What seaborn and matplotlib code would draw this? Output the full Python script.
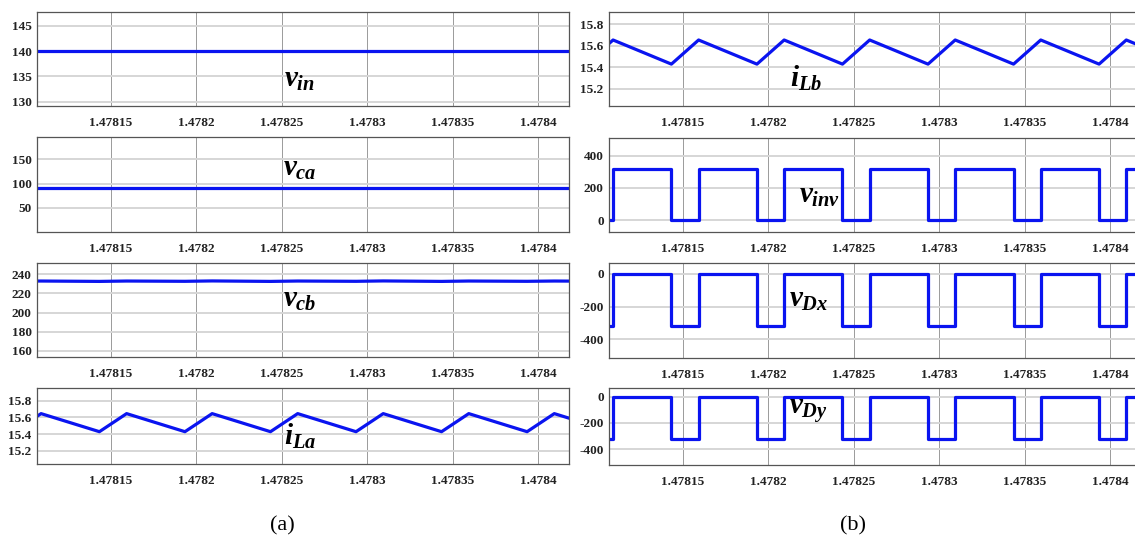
import matplotlib
matplotlib.use("Agg")
import matplotlib.pyplot as plt
import seaborn as sns
from matplotlib.ticker import FixedLocator, FixedFormatter

# ---- switching-instant vertices (s): troughs and peaks of the inductor ripple ----
t_vertices = [1.4780935, 1.4781094, 1.4781435, 1.4781594, 1.4781935, 1.4782094,
              1.4782435, 1.4782594, 1.4782935, 1.4783094, 1.4783435, 1.4783594,
              1.4783935, 1.4784094, 1.4784435]

# panel (a)
v_in = [140.0] * len(t_vertices)
v_ca = [91.0] * len(t_vertices)
v_cb = [232.8, 233.0, 232.6, 233.0, 232.7, 233.1, 232.6, 233.0,
        232.7, 233.1, 232.6, 233.0, 232.7, 233.0, 232.7]
i_La = [15.428, 15.645, 15.428, 15.645, 15.428, 15.645, 15.428, 15.645,
        15.428, 15.645, 15.428, 15.645, 15.428, 15.645, 15.428]

# panel (b)
i_Lb = [15.428, 15.652, 15.428, 15.652, 15.428, 15.652, 15.428, 15.652,
        15.428, 15.652, 15.428, 15.652, 15.428, 15.652, 15.428]
v_inv = [0, 321, 0, 321, 0, 321, 0, 321, 0, 321, 0, 321, 0, 321, 0]
v_Dx = [-319, 0, -319, 0, -319, 0, -319, 0, -319, 0, -319, 0, -319, 0, -319]
v_Dy = [-323, 0, -323, 0, -323, 0, -323, 0, -323, 0, -323, 0, -323, 0, -323]

# time axis
x_limits = (1.4781072, 1.478418)
x_ticks = [1.47815, 1.4782, 1.47825, 1.4783, 1.47835, 1.4784]
x_tick_labels = ["1.47815", "1.4782", "1.47825", "1.4783", "1.47835", "1.4784"]

sns.set_theme(style="white")
plt.rcParams["font.family"] = ["Liberation Serif", "DejaVu Serif"]
plt.rcParams["mathtext.fontset"] = "custom"
plt.rcParams["mathtext.it"] = "Liberation Serif:italic:bold"
plt.rcParams["mathtext.rm"] = "Liberation Serif:bold"
plt.rcParams["mathtext.bf"] = "Liberation Serif:italic:bold"

W, H = 1135, 538
fig = plt.figure(figsize=(W / 100, H / 100), dpi=100)


def px_axes(x0, top, width, bottom):
    return fig.add_axes([x0 / W, 1 - bottom / H, width / W, (bottom - top) / H])


panels = [
    # left column
    dict(box=(37.3, 11.7, 531.7, 106.3), y=v_in, ylim=(129.07, 147.8),
         yt=[130, 135, 140, 145], ytl=["130", "135", "140", "145"],
         label=r"$v_{in}$", lab=(284, 87), steps=False),
    dict(box=(37.3, 137.3, 531.7, 231.7), y=v_ca, ylim=(0.4, 195.5),
         yt=[50, 100, 150], ytl=["50", "100", "150"],
         label=r"$v_{ca}$", lab=(283, 176), steps=False),
    dict(box=(37.3, 263.3, 531.7, 357.3), y=v_cb, ylim=(153.4, 251.5),
         yt=[160, 180, 200, 220, 240], ytl=["160", "180", "200", "220", "240"],
         label=r"$v_{cb}$", lab=(283, 307), steps=False),
    dict(box=(37.3, 388.3, 531.7, 464.0), y=i_La, ylim=(15.04, 15.949),
         yt=[15.2, 15.4, 15.6, 15.8], ytl=["15.2", "15.4", "15.6", "15.8"],
         label=r"$i_{La}$", lab=(284, 445), steps=False),
    # right column
    dict(box=(609.3, 12.0, 531.7, 106.0), y=i_Lb, ylim=(15.039, 15.912),
         yt=[15.2, 15.4, 15.6, 15.8], ytl=["15.2", "15.4", "15.6", "15.8"],
         label=r"$i_{Lb}$", lab=(790, 87), steps=False),
    dict(box=(609.3, 138.3, 531.7, 231.7), y=v_inv, ylim=(-73, 510),
         yt=[0, 200, 400], ytl=["0", "200", "400"],
         label=r"$v_{inv}$", lab=(799, 203), steps=True),
    dict(box=(609.3, 263.3, 531.7, 358.3), y=v_Dx, ylim=(-516, 65),
         yt=[-400, -200, 0], ytl=["-400", "-200", "0"],
         label=r"$v_{Dx}$", lab=(789, 307), steps=True),
    dict(box=(609.3, 388.3, 531.7, 464.5), y=v_Dy, ylim=(-518, 64),
         yt=[-400, -200, 0], ytl=["-400", "-200", "0"],
         label=r"$v_{Dy}$", lab=(789, 414), steps=True),
]

for p in panels:
    x0, top, w, bottom = p["box"]
    ax = px_axes(x0, top, w, bottom)
    kw = dict(drawstyle="steps-post") if p["steps"] else {}
    sns.lineplot(x=t_vertices, y=p["y"], ax=ax, color="#0a14f0", lw=2.3,
                 sort=False, estimator=None, **kw)
    ax.set_xlim(*x_limits)
    ax.set_ylim(*p["ylim"])
    ax.xaxis.set_major_locator(FixedLocator(x_ticks))
    ax.xaxis.set_major_formatter(FixedFormatter(x_tick_labels))
    ax.yaxis.set_major_locator(FixedLocator(p["yt"]))
    ax.yaxis.set_major_formatter(FixedFormatter(p["ytl"]))
    ax.set_xlabel("")
    ax.set_ylabel("")
    ax.tick_params(axis="both", length=0, labelsize=9.5, colors="#222222")
    ax.tick_params(axis="x", pad=8)
    ax.tick_params(axis="y", pad=4)
    for lbl in ax.get_xticklabels() + ax.get_yticklabels():
        lbl.set_fontweight("bold")
    ax.xaxis.grid(True, color="#9a9a9a", lw=0.7)
    ax.yaxis.grid(True, color="#d6d6d6", lw=1.4)
    ax.set_axisbelow(True)
    for s in ax.spines.values():
        s.set_color("#555555")
        s.set_linewidth(0.9)
    lx, ly = p["lab"]
    fig.text(lx / W, 1 - ly / H, p["label"], fontsize=21, color="black",
             ha="left", va="baseline")

fig.text(282 / W, 1 - 530 / H, "(a)", fontsize=16, ha="center", va="baseline",
         color="black")
fig.text(853 / W, 1 - 530 / H, "(b)", fontsize=16, ha="center", va="baseline",
         color="black")

fig.savefig("out.png", dpi=100, facecolor="white")
